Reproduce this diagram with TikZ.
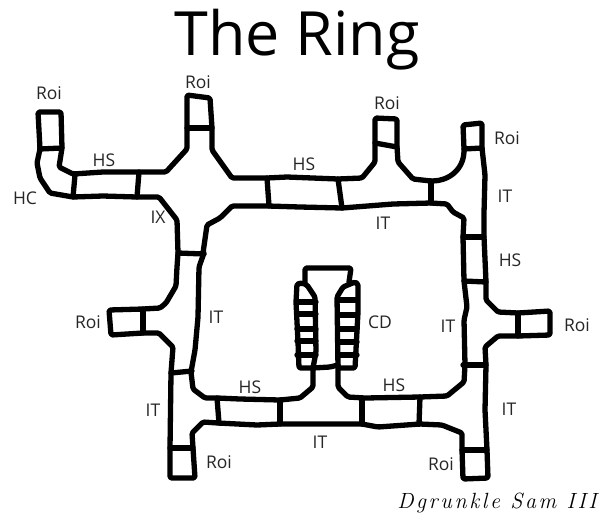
\documentclass[tikz,border=0pt]{standalone}
\usepackage{fontspec}
\setmainfont{Open Sans}
\newfontfamily\signfont{Latin Modern Roman}
\tikzset{
  wall/.style={line width=5.3pt,line join=round,line cap=round,rounded corners=1.5pt},
  lbl/.style={inner sep=0pt,font=\fontsize{17.5}{20}\selectfont,text=black!85},
  ttl/.style={inner sep=0pt,font=\fontsize{61}{70}\selectfont,text=black},
  sgn/.style={inner sep=0pt,font=\fontsize{22}{25}\selectfont\itshape,text=black}
}
\begin{document}
\begin{tikzpicture}[x=1pt,y=-1pt]
\useasboundingbox (0,0) rectangle (604,520);
% Outer wall
\draw[wall] (40,149) -- (38,112) -- (61,112) -- (62,148) -- (59,167) -- (73,174) -- (103,172) -- (139,172) -- (166,172) -- (187,149) -- (187,128) -- (187,95) -- (210,98) -- (212,128) -- (212,150) -- (232,178) -- (267,178) -- (287,177) -- (338,179) -- (362,178) -- (375,162) -- (375,143) -- (375,118) -- (397,119) -- (397,147) -- (398,162) -- (413,179) -- (431,181) .. controls (448,181) and (464,170) .. (464,149) -- (463,125) -- (482,123) -- (482,148) -- (485,175) -- (484,213) -- (484,237) -- (486,282) -- (486,300) -- (498,312) -- (518,313) -- (550,311) -- (550,335) -- (518,336) -- (498,336) -- (485,347) -- (486,365) -- (485,410) -- (487,450) -- (488,478) -- (463,479) -- (462,450) -- (462,433) -- (442,425) -- (420,424) -- (378,427) -- (362,424) -- (280,424) -- (257,425) -- (218,423) -- (203,422) -- (192,433) -- (193,448) -- (195,478) -- (170,478) -- (170,448) -- (171,373) -- (173,347) -- (159,333) -- (143,333) -- (111,335) -- (109,310) -- (143,309) -- (160,308) -- (166,303) -- (176,286) -- (177,267) -- (178,253) -- (177,220) -- (159,197) -- (137,197) -- (103,196) -- (73,197) -- (50,193) -- (40,178) -- (37,163) -- cycle;
% Inner wall
\draw[wall] (203,253) -- (207,225) -- (220,218) -- (232,206) -- (268,206) -- (300,207) -- (342,208) -- (393,204) -- (431,203) -- (447,204) -- (453,212) -- (464,218) -- (463,237) -- (464,281) -- (467,307) -- (464,320) -- (465,365) -- (464,382) -- (447,396) -- (420,397) -- (365,398) -- (348,397) -- (338,387) -- (338,367);
\draw[wall] (313,368) -- (313,387) -- (300,398) -- (280,400) -- (240,399) -- (217,398) -- (205,398) -- (193,389) -- (191,372) -- (195,350) -- (198,317) -- (199,267) -- (204,253);
% Cross walls
\draw[wall] (40,149) -- (62,148);
\draw[wall] (75,175) -- (73,197);
\draw[wall] (139,172) -- (137,197);
\draw[wall] (187,128) -- (212,128);
\draw[wall] (178,253) -- (204,254);
\draw[wall] (267,178) -- (269,206);
\draw[wall] (338,179) -- (342,208);
\draw[wall] (375,143) -- (397,147);
\draw[wall] (431,181) -- (431,203);
\draw[wall] (464,149) -- (482,148);
\draw[wall] (463,237) -- (484,237);
\draw[wall] (464,281) -- (486,282);
\draw[wall] (518,313) -- (518,336);
\draw[wall] (463,365) -- (486,365);
\draw[wall] (462,450) -- (487,450);
\draw[wall] (420,397) -- (419,424);
\draw[wall] (362,400) -- (362,424);
\draw[wall] (280,400) -- (280,424);
\draw[wall] (217,398) -- (219,423);
\draw[wall] (170,448) -- (193,448);
\draw[wall] (171,373) -- (192,371);
\draw[wall] (143,309) -- (143,333);
% CD
\draw[wall] (305,283) -- (305,268) -- (351,268) -- (349,282);
\draw[wall] (302,283) -- (297,284) -- (296,302) -- (298,342) -- (299,368) -- (313,368) -- (316,352) -- (315,297) -- (307,285) -- cycle;
\draw[wall] (343,287) -- (355,282) -- (358,284) -- (358,312) -- (355,368) -- (338,368) -- (337,297) -- cycle;
\draw[wall] (313,368) -- (330,367) -- (338,365);
\foreach \y in {302,314,329,341,355} \draw[wall] (297,\y) -- (316,\y);
\foreach \y in {300,315,329,342,355} \draw[wall] (338,\y) -- (357,\y);
% Text
\node[ttl] (title) at (297,40) {The Ring};
\node[lbl] (r1) at (49,93) {Roi};
\node[lbl] (r2) at (198,82) {Roi};
\node[lbl] (r3) at (387,103) {Roi};
\node[lbl] (r4) at (507,138) {Roi};
\node[lbl] (r5) at (88,322) {Roi};
\node[lbl] (r6) at (577,325) {Roi};
\node[lbl] (r7) at (219,462) {Roi};
\node[lbl] (r8) at (441,464) {Roi};
\node[lbl] (hs1) at (104,160) {HS};
\node[lbl] (hs2) at (304,164) {HS};
\node[lbl] (hs3) at (510,260) {HS};
\node[lbl] (hs4) at (250,387) {HS};
\node[lbl] (hs5) at (394,385) {HS};
\node[lbl] (hc) at (25,198) {HC};
\node[lbl] (ix) at (158,217) {IX};
\node[lbl] (it1) at (383,223) {IT};
\node[lbl] (it2) at (505,196) {IT};
\node[lbl] (it3) at (216,317) {IT};
\node[lbl] (it4) at (448,326) {IT};
\node[lbl] (it5) at (153,410) {IT};
\node[lbl] (it6) at (509,409) {IT};
\node[lbl] (it7) at (320,442) {IT};
\node[lbl] (cd) at (380,322) {CD};
\node[sgn] (sign) at (497,503) {\signfont\addfontfeatures{LetterSpace=12}Dgrunkle Sam III};
\end{tikzpicture}
\end{document}
